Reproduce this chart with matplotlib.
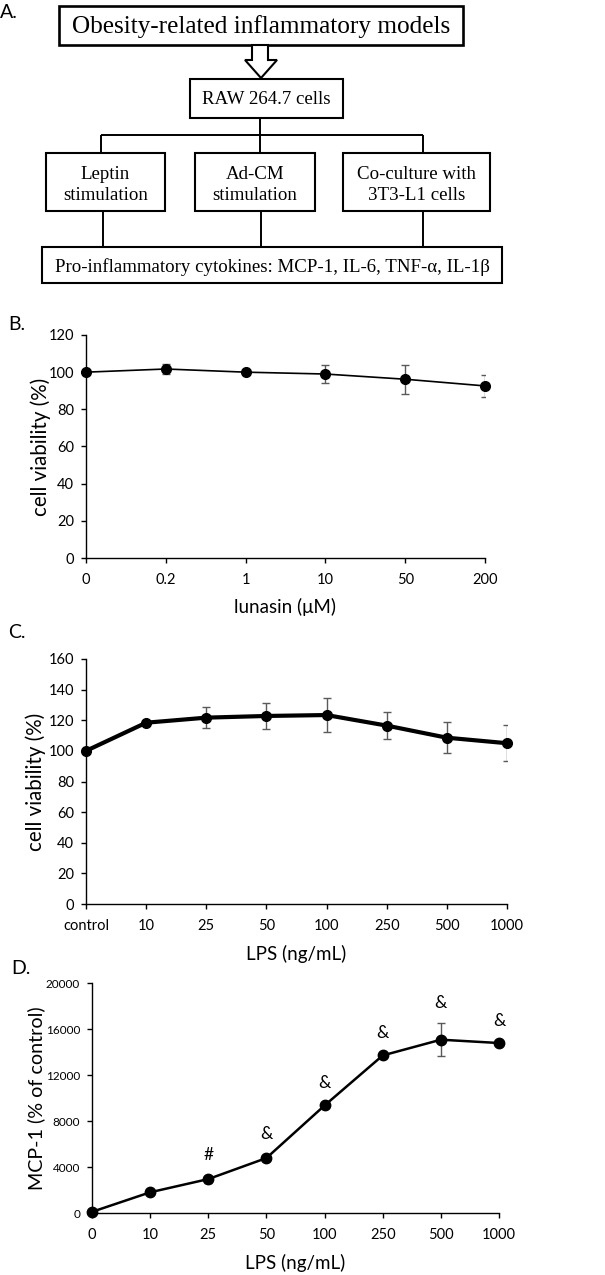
import matplotlib
matplotlib.use("Agg")
import matplotlib.pyplot as plt
from matplotlib.patches import Rectangle, Polygon

# ---------------- data ----------------
b_labels = ["0", "0.2", "1", "10", "50", "200"]
b_values = [100, 101.7, 100, 99.0, 96.2, 92.6]
b_errors = [0.5, 2.8, 0.5, 4.6, 7.8, 5.9]

c_labels = ["control", "10", "25", "50", "100", "250", "500", "1000"]
c_values = [100, 118.4, 121.7, 122.8, 123.4, 116.5, 108.6, 105.0]
c_errors = [0.5, 1.0, 7.0, 8.5, 11.0, 9.0, 10.0, 11.8]

d_labels = ["0", "10", "25", "50", "100", "250", "500", "1000"]
d_values = [100, 1800, 2950, 4780, 9350, 13700, 15070, 14780]
d_errors = [60, 150, 300, 300, 200, 200, 1450, 150]
d_marks = ["", "", "#", "&", "&", "&", "&", "&"]

flow_title = "Obesity-related inflammatory models"
flow_cells = "RAW 264.7 cells"
flow_models = ["Leptin\nstimulation", "Ad-CM\nstimulation", "Co-culture with\n3T3-L1 cells"]
flow_output = "Pro-inflammatory cytokines: MCP-1, IL-6, TNF-\u03b1, IL-1\u03b2"

# ---------------- figure ----------------
W, H = 605, 1275
fig = plt.figure(figsize=(W / 100, H / 100), dpi=100)
SANS = ["Lato", "DejaVu Sans"]
SERIF = ["Liberation Serif", "DejaVu Serif"]


def ax_px(left, top, right, bottom):
    return fig.add_axes([left / W, 1 - bottom / H, (right - left) / W, (bottom - top) / H])


# overlay in pixel coordinates for panel A and panel letters
ov = fig.add_axes([0, 0, 1, 1])
ov.set_xlim(0, W)
ov.set_ylim(H, 0)
ov.axis("off")


def box(x0, y0, x1, y1, lw=1.5):
    ov.add_patch(Rectangle((x0, y0), x1 - x0, y1 - y0, fill=False, ec="black", lw=lw))


def line(xs, ys, lw=1.4):
    ov.plot(xs, ys, color="black", lw=lw, solid_capstyle="butt")


# Panel A
box(59, 6, 463, 45, lw=1.9)
ov.text(261, 27, flow_title, ha="center", va="center", fontsize=18.2, family=SERIF)
arrow = Polygon([(252, 45), (268, 45), (268, 60), (277, 60), (261, 78), (245, 60), (252, 60)],
                closed=True, fill=True, fc="white", ec="black", lw=1.5)
ov.add_patch(arrow)
box(190, 79, 343, 118)
ov.text(266, 99, flow_cells, ha="center", va="center", fontsize=13.6, family=SERIF)
line([260, 260], [118, 135])
line([101, 423], [135, 135])
for xx in (101, 260, 423):
    line([xx, xx], [135, 153])
model_boxes = [(46, 165), (195, 315), (343, 490)]
for (x0, x1), lab in zip(model_boxes, flow_models):
    box(x0, 153, x1, 211)
    ov.text((x0 + x1) / 2, 185, lab, ha="center", va="center", fontsize=13.6,
            family=SERIF, linespacing=1.38)
for xx in (103, 261, 423):
    line([xx, xx], [211, 247])
box(42, 247, 502, 283)
ov.text(272, 267, flow_output, ha="center", va="center", fontsize=13.6, family=SERIF)

for lab, (xx, yy) in zip(["A.", "B.", "C.", "D."], [(0, 12), (8, 325), (8, 632), (11, 968)]):
    ov.text(xx, yy, lab, ha="left", va="center", fontsize=14, family=SANS)


def style(ax, ylab, ylab_fs, ylab_x, ytick_fs=10.5, xtick_fs=10.5):
    for s in ("top", "right"):
        ax.spines[s].set_visible(False)
    for s in ("left", "bottom"):
        ax.spines[s].set_linewidth(1.0)
    ax.tick_params(axis="both", direction="out", length=3.6, width=1.0, colors="black")
    ax.tick_params(axis="y", labelsize=ytick_fs, pad=5)
    ax.tick_params(axis="x", labelsize=xtick_fs, pad=7)
    for t in ax.get_xticklabels() + ax.get_yticklabels():
        t.set_family(SANS)
    ax.set_ylabel(ylab, fontsize=ylab_fs, family=SANS)
    ax.yaxis.set_label_coords(ylab_x, 0.5)
    ax.patch.set_alpha(0)


ERR = dict(fmt="none", ecolor="#5a5a5a", elinewidth=1.0, capsize=3.2, capthick=1.0, zorder=2)

# Panel B
axB = ax_px(86, 335, 485, 558)
xb = list(range(len(b_labels)))
axB.errorbar(xb, b_values, yerr=b_errors, **ERR)
axB.plot(xb, b_values, color="black", lw=1.2, marker="o", ms=7, zorder=3, clip_on=False)
axB.set_xlim(0, len(b_labels) - 1)
axB.set_ylim(0, 120)
axB.set_yticks(range(0, 121, 20))
axB.set_xticks(xb)
axB.set_xticklabels(b_labels)
style(axB, "cell viability (%)", 14.8, -0.088)
axB.set_xlabel("lunasin (\u03bcM)", fontsize=13.5, family=SANS, labelpad=8)

# Panel C
axC = ax_px(86, 659, 507, 904)
xc = list(range(len(c_labels)))
axC.errorbar(xc, c_values, yerr=c_errors, **ERR)
axC.plot(xc, c_values, color="black", lw=3.0, marker="o", ms=7, zorder=3, clip_on=False)
axC.set_xlim(0, len(c_labels) - 1)
axC.set_ylim(0, 160)
axC.set_yticks(range(0, 161, 20))
axC.set_xticks(xc)
axC.set_xticklabels(c_labels)
style(axC, "cell viability (%)", 14.8, -0.095)
axC.set_xlabel("LPS (ng/mL)", fontsize=13.5, family=SANS, labelpad=9)

# Panel D
axD = ax_px(92, 983, 499, 1213)
xd = list(range(len(d_labels)))
axD.errorbar(xd, d_values, yerr=d_errors, **ERR)
axD.plot(xd, d_values, color="black", lw=1.8, marker="o", ms=7.5, zorder=3, clip_on=False)
axD.set_xlim(0, len(d_labels) - 1)
axD.set_ylim(0, 20000)
axD.set_yticks(range(0, 20001, 4000))
axD.set_xticks(xd)
axD.set_xticklabels(d_labels)
style(axD, "MCP-1 (% of control)", 14.2, -0.115, ytick_fs=8.5)
axD.set_xlabel("LPS (ng/mL)", fontsize=13.5, family=SANS, labelpad=9)
for xx, v, e, m in zip(xd, d_values, d_errors, d_marks):
    if m:
        axD.annotate(m, (xx, v + e), xytext=(0, 9), textcoords="offset points",
                     ha="center", va="bottom", fontsize=12.5, family=SANS)

fig.savefig("out.png", dpi=100)
